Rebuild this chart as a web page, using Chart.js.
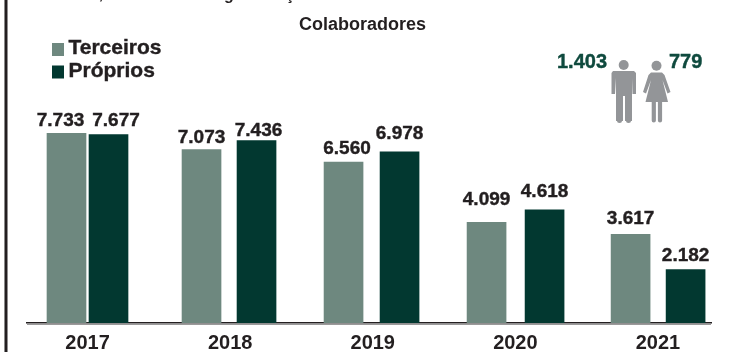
<!DOCTYPE html>
<html>
<head>
<meta charset="utf-8">
<title>Colaboradores</title>
<script src="https://cdn.jsdelivr.net/npm/chart.js@4"></script>
<style>
  html, body { margin: 0; padding: 0; background: #fff; }
  #wrap { position: relative; width: 751px; height: 352px; overflow: hidden; }
</style>
</head>
<body>
<div id="wrap"><canvas id="colabChart" width="751" height="352"></canvas></div>
<script>
// dados
var anos = [2017, 2018, 2019, 2020, 2021];
var terceiros = [7733, 7073, 6560, 4099, 3617];
var proprios = [7677, 7436, 6978, 4618, 2182];
var homens = 1403;
var mulheres = 779;

// cores e fontes
var corTerceiros = '#6e887f';
var corProprios = '#023830';
var corTexto = '#231f20';
var corVerde = '#0f4a3e';
var corIcone = '#939598';
var fonte = '"Liberation Sans", Arial, sans-serif';

// largura de um ano no eixo x, em px
var pxPorAno = 142.6;

// deslocamento de cada barra em relacao ao tick do ano (px)
var desvioTerc = [-21, -28.6, -29.2, -28.8, -27.4];
var desvioProp = [21, 26.4, 26.8, 29.2, 27.6];

// ajuste fino dos rotulos: [dx, altura acima da barra]
var ajusteTerc = [[-6, 7.5], [0, 6], [3.5, 8], [0, 17], [0, 10]];
var ajusteProp = [[7.5, 8.5], [2, 5], [0, 13], [0, 13], [0, 8]];

function fmt(v) {
	return String(v).replace(/\B(?=(\d{3})+$)/g, '.');
}

function pontos(valores, desvio) {
	var lista = [];
	for (var i = 0; i < valores.length; i++) {
		lista.push({ x: anos[i] + desvio[i] / pxPorAno, y: valores[i] });
	}
	return lista;
}

// texto em negrito com um contorno fino, fica mais pesado
function textoForte(ctx, txt, x, y) {
	ctx.lineWidth = 0.4;
	ctx.strokeStyle = ctx.fillStyle;
	ctx.fillText(txt, x, y);
	ctx.strokeText(txt, x, y);
}

// linha vertical da moldura e restos do texto que vem de cima
var moldura = {
	id: 'moldura',
	beforeDraw: function(chart) {
		var ctx = chart.ctx;
		ctx.save();
		ctx.fillStyle = '#8a8a8a';
		ctx.fillRect(4, 0, 1, 352);
		ctx.fillStyle = corTexto;
		ctx.fillRect(5, 0, 2.5, 352);
		ctx.font = '600 16px ' + fonte;
		ctx.textAlign = 'center';
		ctx.textBaseline = 'alphabetic';
		ctx.fillText(',', 101, -1);
		ctx.fillText('g', 229, 0);
		ctx.fillText('ç', 290, 0);
		ctx.restore();
	},
	afterDraw: function(chart) {
		// sombra cinza embaixo do eixo
		var ctx = chart.ctx;
		var area = chart.chartArea;
		ctx.save();
		ctx.fillStyle = '#9a9a9a';
		ctx.fillRect(area.left, area.bottom + 1, area.right - area.left, 1);
		ctx.restore();
	}
};

// move o titulo para o centro do bloco
var tituloPos = {
	id: 'tituloPos',
	afterLayout: function(chart) {
		chart.titleBlock.left -= 13;
	}
};

// valores em cima das barras
var rotulos = {
	id: 'rotulos',
	afterDatasetsDraw: function(chart) {
		var ctx = chart.ctx;
		var ajustes = [ajusteTerc, ajusteProp];
		ctx.save();
		ctx.font = 'bold 19px ' + fonte;
		ctx.fillStyle = corTexto;
		ctx.textAlign = 'center';
		ctx.textBaseline = 'alphabetic';
		chart.data.datasets.forEach(function(ds, d) {
			chart.getDatasetMeta(d).data.forEach(function(bar, i) {
				var aj = ajustes[d][i];
				textoForte(ctx, fmt(ds.data[i].y), bar.x + aj[0], bar.y - aj[1]);
			});
		});
		ctx.restore();
	}
};

// legenda em duas linhas
var legenda = {
	id: 'legenda',
	afterDraw: function(chart) {
		var ctx = chart.ctx;
		var ys = [54, 76.5];
		ctx.save();
		ctx.font = 'bold 21px ' + fonte;
		ctx.textAlign = 'left';
		ctx.textBaseline = 'alphabetic';
		chart.data.datasets.forEach(function(ds, d) {
			ctx.fillStyle = ds.backgroundColor;
			ctx.fillRect(52, ys[d] - 11, 12, 13);
			ctx.fillStyle = corTexto;
			textoForte(ctx, ds.label, 68.5, ys[d]);
		});
		ctx.restore();
	}
};

// bonecos e totais por genero
var pessoas = {
	id: 'pessoas',
	afterDraw: function(chart) {
		var ctx = chart.ctx;
		ctx.save();

		ctx.font = 'bold 20px ' + fonte;
		ctx.fillStyle = corVerde;
		ctx.textBaseline = 'alphabetic';
		ctx.textAlign = 'right';
		textoForte(ctx, fmt(homens), 607, 68);
		ctx.textAlign = 'left';
		textoForte(ctx, fmt(mulheres), 669, 68);

		ctx.fillStyle = corIcone;
		ctx.strokeStyle = corIcone;
		ctx.lineCap = 'round';
		ctx.lineJoin = 'round';

		// homem
		ctx.beginPath();
		ctx.arc(623.7, 65, 5, 0, Math.PI * 2);
		ctx.fill();
		ctx.beginPath();
		ctx.moveTo(613, 71);
		ctx.lineTo(634, 71);
		ctx.lineTo(636, 73);
		ctx.lineTo(636, 94);
		ctx.lineTo(632.5, 94);
		ctx.lineTo(632, 78);
		ctx.lineTo(632, 121);
		ctx.lineTo(625, 121);
		ctx.lineTo(625, 96);
		ctx.lineTo(623, 96);
		ctx.lineTo(623, 121);
		ctx.lineTo(616, 121);
		ctx.lineTo(616, 78);
		ctx.lineTo(615, 94);
		ctx.lineTo(611.5, 94);
		ctx.lineTo(611.5, 73);
		ctx.closePath();
		ctx.fill();
		ctx.beginPath();
		ctx.moveTo(619.5, 120);
		ctx.lineTo(619.5, 120.5);
		ctx.moveTo(628.5, 120);
		ctx.lineTo(628.5, 120.5);
		ctx.lineWidth = 5;
		ctx.stroke();

		// mulher
		ctx.beginPath();
		ctx.arc(656.5, 65.7, 5, 0, Math.PI * 2);
		ctx.fill();
		ctx.beginPath();
		ctx.moveTo(651, 72.5);
		ctx.lineTo(662, 72.5);
		ctx.lineTo(664.5, 75);
		ctx.lineTo(670.5, 92);
		ctx.lineTo(667.5, 93.5);
		ctx.lineTo(662.5, 80);
		ctx.lineTo(668, 102);
		ctx.lineTo(645.5, 102);
		ctx.lineTo(651, 80);
		ctx.lineTo(646, 93.5);
		ctx.lineTo(643, 92);
		ctx.lineTo(648.5, 75);
		ctx.closePath();
		ctx.fill();
		ctx.lineWidth = 4.2;
		ctx.beginPath();
		ctx.moveTo(653.8, 102);
		ctx.lineTo(653.8, 120.5);
		ctx.moveTo(660, 102);
		ctx.lineTo(660, 120.5);
		ctx.stroke();

		ctx.restore();
	}
};

//data 세팅
var data = {
	datasets: [{
		label: 'Terceiros',
		data: pontos(terceiros, desvioTerc),
		backgroundColor: corTerceiros
	}, {
		label: 'Próprios',
		data: pontos(proprios, desvioProp),
		backgroundColor: corProprios
	}]
};

//config 세팅
var config = {
	type: 'bar',
	data: data,
	options: {
		responsive: false,
		animation: false,
		grouped: false,
		barThickness: 39,
		maxBarThickness: 39,
		layout: { padding: { left: 27, right: 40, top: 14, bottom: -11 } },
		scales: {
			x: {
				type: 'linear',
				offset: false,
				min: 2017 - 60.5 / pxPorAno,
				max: 2021 + 53 / pxPorAno,
				grid: { display: false, drawTicks: false },
				border: { color: corTexto, width: 1.5 },
				afterBuildTicks: function(axis) {
					axis.ticks = anos.map(function(a) { return { value: a }; });
				},
				ticks: {
					padding: 10,
					autoSkip: false,
					maxRotation: 0,
					font: { family: fonte, size: 20, weight: 'bold', lineHeight: 1 },
					color: corTexto,
					callback: function(v) { return String(v); }
				}
			},
			y: {
				display: false,
				min: 0,
				max: 11716
			}
		},
		plugins: {
			legend: { display: false },
			tooltip: { enabled: false },
			title: {
				display: true,
				text: 'Colaboradores',
				color: corTexto,
				font: { family: fonte, size: 18, weight: 'bold' },
				padding: { top: 0, bottom: 0 }
			}
		}
	},
	plugins: [moldura, tituloPos, rotulos, legenda, pessoas]
};

//chart 객체
var ctx1 = document.getElementById('colabChart').getContext('2d');
new Chart(ctx1, config);
</script>
</body>
</html>
